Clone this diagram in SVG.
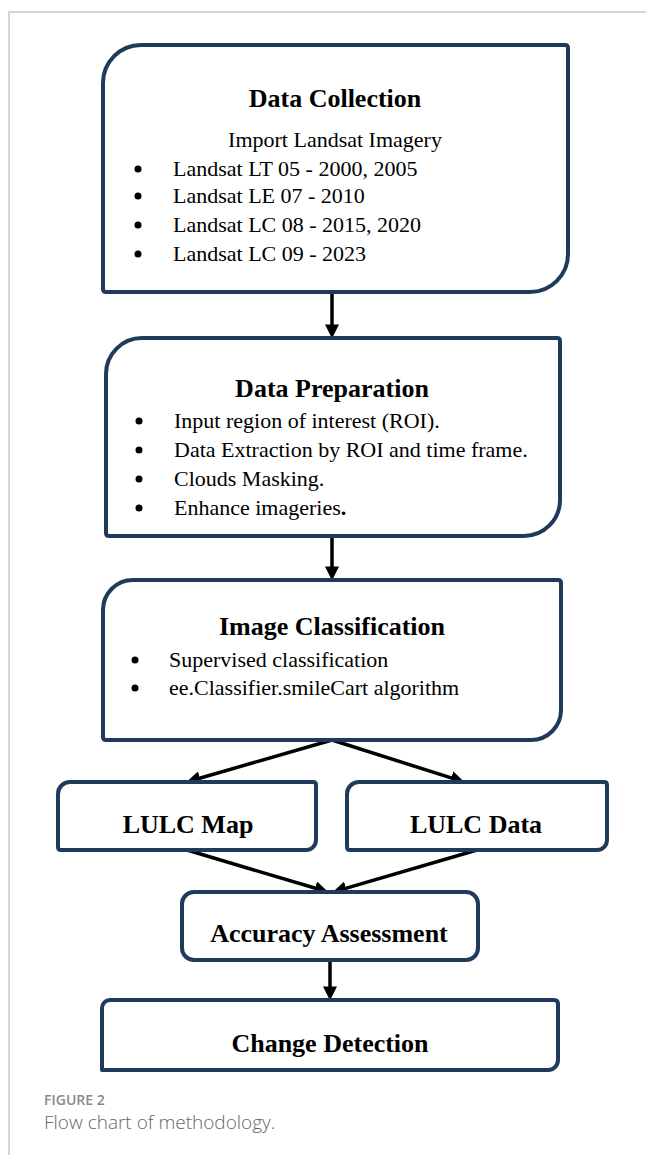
<svg xmlns="http://www.w3.org/2000/svg" width="646" height="1155" viewBox="0 0 646 1155">
<style>
.box{fill:#fff;stroke:#1f3a5a;stroke-width:4;stroke-linejoin:round}
.title{font-family:"Liberation Serif","Times New Roman",serif;font-weight:bold;font-size:26px;fill:#000;text-anchor:middle}
.item{font-family:"Liberation Serif","Times New Roman",serif;font-size:22px;fill:#000}
.bul{fill:#000}
.conn{stroke:#000;stroke-width:3.5;fill:none}
.frame{stroke:#c8c8c8;stroke-width:1.5;fill:none}
.cap1{font-family:"Open Sans","Noto Sans",sans-serif;font-weight:600;font-size:14px;fill:#8a8a8a}
.cap2{font-family:"Open Sans","Noto Sans",sans-serif;font-weight:300;font-size:19px;fill:#666}
</style>
<defs>
<marker id="ah" markerUnits="userSpaceOnUse" markerWidth="14" markerHeight="14" viewBox="0 0 13 13" refX="7" refY="6.5" orient="auto">
<path d="M0,0 L13,6.5 L0,13 Z" fill="#000"/>
</marker>
</defs>
<rect width="646" height="1155" fill="#fff"/>
<path class="frame" d="M9,1155 V12 H646"/>

<g id="connectors">
<line class="conn" x1="332" y1="292" x2="332" y2="332" marker-end="url(#ah)"/>
<line class="conn" x1="332" y1="536" x2="332" y2="574" marker-end="url(#ah)"/>
<line class="conn" x1="332" y1="740" x2="192.7" y2="780.2" marker-end="url(#ah)"/>
<line class="conn" x1="332" y1="740" x2="458.3" y2="780.2" marker-end="url(#ah)"/>
<line class="conn" x1="187" y1="850" x2="322.3" y2="890.3" marker-end="url(#ah)"/>
<line class="conn" x1="477" y1="850" x2="338.8" y2="890.4" marker-end="url(#ah)"/>
<line class="conn" x1="330" y1="960" x2="330" y2="994" marker-end="url(#ah)"/>
</g>

<g id="data-collection">
<path class="box" d="M141,45 H565 Q568,45 568,48 V254 A38,38 0 0 1 530,292 H106 Q103,292 103,289 V83 A38,38 0 0 1 141,45 Z"/>
<text class="title" x="335" y="107">Data Collection</text>
<text class="item" x="335" y="147" text-anchor="middle">Import Landsat Imagery</text>
<circle class="bul" cx="138" cy="169" r="3.5"/>
<text class="item" x="173" y="176">Landsat LT 05 - 2000, 2005</text>
<circle class="bul" cx="138" cy="196" r="3.5"/>
<text class="item" x="173" y="203">Landsat LE 07 - 2010</text>
<circle class="bul" cx="138" cy="225" r="3.5"/>
<text class="item" x="173" y="232">Landsat LC 08 - 2015, 2020</text>
<circle class="bul" cx="138" cy="254" r="3.5"/>
<text class="item" x="173" y="261">Landsat LC 09 - 2023</text>
</g>

<g id="data-preparation">
<path class="box" d="M142,338 H557 Q560,338 560,341 V500 A36,36 0 0 1 524,536 H109 Q106,536 106,533 V374 A36,36 0 0 1 142,338 Z"/>
<text class="title" x="332" y="397">Data Preparation</text>
<circle class="bul" cx="139" cy="421" r="3.5"/>
<text class="item" x="174" y="428">Input region of interest (ROI).</text>
<circle class="bul" cx="139" cy="450" r="3.5"/>
<text class="item" x="174" y="457">Data Extraction by ROI and time frame.</text>
<circle class="bul" cx="139" cy="479" r="3.5"/>
<text class="item" x="174" y="486">Clouds Masking.</text>
<circle class="bul" cx="139" cy="508" r="3.5"/>
<text class="item" x="174" y="515">Enhance imageries<tspan font-weight="bold">.</tspan></text>
</g>

<g id="image-classification">
<path class="box" d="M133,580 H558 Q561,580 561,583 V710 A30,30 0 0 1 531,740 H106 Q103,740 103,737 V610 A30,30 0 0 1 133,580 Z"/>
<text class="title" x="332" y="635">Image Classification</text>
<circle class="bul" cx="135" cy="660" r="3.5"/>
<text class="item" x="169" y="667">Supervised classification</text>
<circle class="bul" cx="135" cy="688" r="3.5"/>
<text class="item" x="169" y="695">ee.Classifier.smileCart algorithm</text>
</g>

<g id="lulc-map">
<path class="box" d="M70,782 H313 Q316,782 316,785 V840 A10,10 0 0 1 306,850 H61 Q58,850 58,847 V794 A12,12 0 0 1 70,782 Z"/>
<text class="title" x="188" y="833">LULC Map</text>
</g>

<g id="lulc-data">
<path class="box" d="M359,782 H604 Q607,782 607,785 V840 A10,10 0 0 1 597,850 H350 Q347,850 347,847 V794 A12,12 0 0 1 359,782 Z"/>
<text class="title" x="476" y="833">LULC Data</text>
</g>

<g id="accuracy-assessment">
<rect class="box" x="182" y="892" width="296" height="68" rx="12" ry="12"/>
<text class="title" x="329" y="942">Accuracy Assessment</text>
</g>

<g id="change-detection">
<path class="box" d="M110,1000 H554 Q558,1000 558,1004 V1060 A10,10 0 0 1 548,1070 H102 V1008 A8,8 0 0 1 110,1000 Z"/>
<text class="title" x="330" y="1052">Change Detection</text>
</g>

<text class="cap1" x="44" y="1105">FIGURE 2</text>
<text class="cap2" x="44" y="1129">Flow chart of methodology.</text>
</svg>
